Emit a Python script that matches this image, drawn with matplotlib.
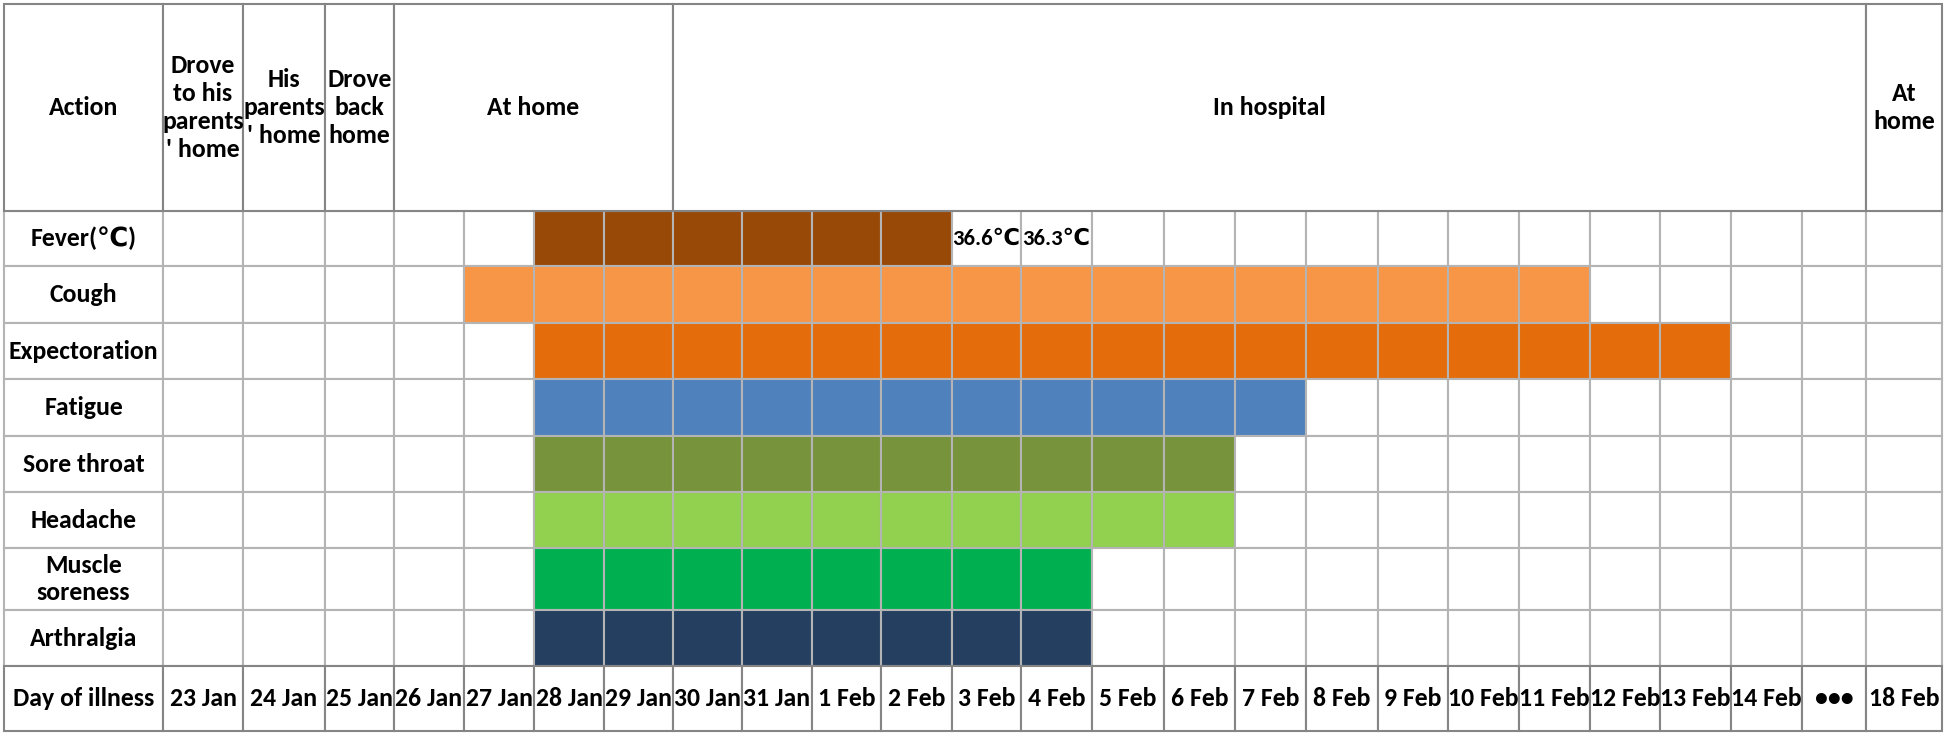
import matplotlib
matplotlib.use("Agg")
import matplotlib.pyplot as plt
from matplotlib import font_manager
from matplotlib.patches import Rectangle

# pick a narrow bold font that is installed
installed = {f.name for f in font_manager.fontManager.ttflist}
font_sizes = {'Carlito': 18.5, 'Liberation Sans Narrow': 17.5, 'Roboto Condensed': 17,
              'Lato': 16.5, 'DejaVu Sans': 14}
family = 'DejaVu Sans'
for name in ['Carlito', 'Liberation Sans Narrow', 'Roboto Condensed', 'Lato']:
    if name in installed:
        family = name
        break
plt.rcParams['font.family'] = [family, 'DejaVu Sans']
plt.rcParams['font.weight'] = 'bold'
fs = font_sizes[family]

# data
days = ['23 Jan', '24 Jan', '25 Jan', '26 Jan', '27 Jan', '28 Jan', '29 Jan', '30 Jan',
        '31 Jan', '1 Feb', '2 Feb', '3 Feb', '4 Feb', '5 Feb', '6 Feb', '7 Feb', '8 Feb',
        '9 Feb', '10 Feb', '11 Feb', '12 Feb', '13 Feb', '14 Feb', '•••', '18 Feb']
symptoms = ['Fever(℃)', 'Cough', 'Expectoration', 'Fatigue', 'Sore throat', 'Headache',
            'Muscle\nsoreness', 'Arthralgia']
onset = ['28 Jan', '27 Jan', '28 Jan', '28 Jan', '28 Jan', '28 Jan', '28 Jan', '28 Jan']
last_day = ['2 Feb', '11 Feb', '13 Feb', '7 Feb', '6 Feb', '6 Feb', '4 Feb', '4 Feb']
sym_colors = ['#984807', '#F79646', '#E46C0A', '#4F81BD', '#77933C', '#92D050', '#00B050', '#243F60']
fever_days = ['3 Feb', '4 Feb']
fever_temps = ['36.6℃', '36.3℃']
actions = ["Drove\nto his\nparents\n' home", "His\nparents\n' home", "Drove\nback\nhome",
           "At home", "In hospital", "At\nhome"]
action_from = ['23 Jan', '24 Jan', '25 Jan', '26 Jan', '30 Jan', '18 Feb']
action_to = ['23 Jan', '24 Jan', '25 Jan', '29 Jan', '•••', '18 Feb']

# layout (pixel grid)
col_edges = [4, 163, 243, 325, 394, 464, 534, 604, 673, 742, 812, 881, 952, 1021, 1092,
             1164, 1235, 1306, 1378, 1448, 1519, 1590, 1660, 1731, 1802, 1866, 1942]
row_edges = [4, 211, 266, 323, 379, 436, 492, 548, 610, 666, 731]
light = '#b4b4b4'
dark = '#858585'
lw = 1.5

fig = plt.figure(figsize=(19.46, 7.35), dpi=100)
ax = fig.add_axes([0, 0, 1, 1])
ax.set_xlim(0, 1946)
ax.set_ylim(735, 0)
ax.axis('off')


def cell(x0, x1, y0, y1, fc='white', ec=light, text=None, size=fs, z=1):
    ax.add_patch(Rectangle((x0, y0), x1 - x0, y1 - y0, facecolor=fc, edgecolor=ec,
                           linewidth=lw, zorder=z))
    if text is not None:
        ax.text((x0 + x1) / 2, (y0 + y1) / 2, text, ha='center', va='center',
                fontsize=size, linespacing=1.25, zorder=5)


# header row
cell(col_edges[0], col_edges[1], row_edges[0], row_edges[1], ec=dark, text='Action', z=2)
for lab, a, b in zip(actions, action_from, action_to):
    i0 = days.index(a)
    i1 = days.index(b)
    cell(col_edges[i0 + 1], col_edges[i1 + 2], row_edges[0], row_edges[1], ec=dark, text=lab, z=2)

# symptom rows
for r, name in enumerate(symptoms):
    y0, y1 = row_edges[r + 1], row_edges[r + 2]
    cell(col_edges[0], col_edges[1], y0, y1, text=name)
    s = days.index(onset[r])
    e = days.index(last_day[r])
    for j, d in enumerate(days):
        fc = sym_colors[r] if s <= j <= e else 'white'
        txt = None
        if r == 0 and d in fever_days:
            txt = fever_temps[fever_days.index(d)]
        cell(col_edges[j + 1], col_edges[j + 2], y0, y1, fc=fc, text=txt, size=fs * 0.88)

# day row
y0, y1 = row_edges[-2], row_edges[-1]
cell(col_edges[0], col_edges[1], y0, y1, ec=dark, text='Day of illness', z=2)
for j, d in enumerate(days):
    cell(col_edges[j + 1], col_edges[j + 2], y0, y1, ec=dark, text=d, z=2)

fig.savefig('out.png', dpi=100)
